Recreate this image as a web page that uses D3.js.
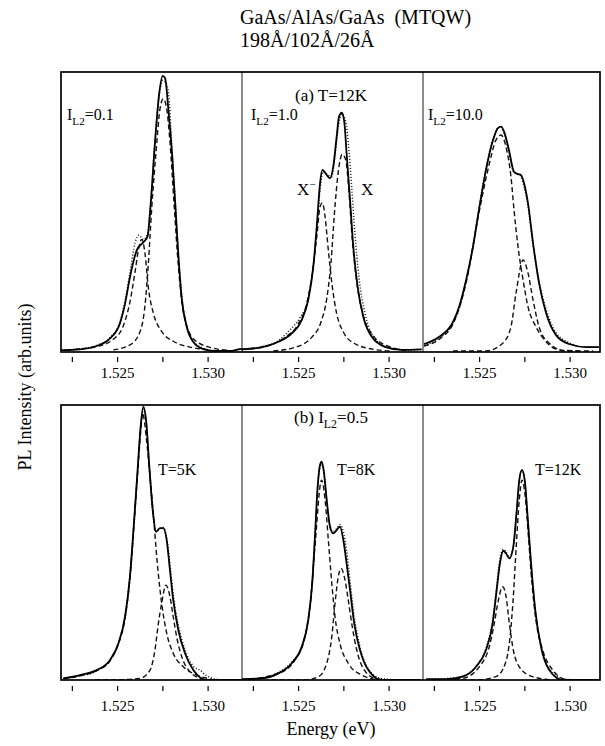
<!DOCTYPE html>
<html><head><meta charset="utf-8">
<script src="https://cdn.jsdelivr.net/npm/d3@7"></script>
<style>
body{margin:0;background:#fff}
svg{display:block}
text{font-family:"Liberation Serif","Times New Roman",serif;fill:#000}
</style>
</head><body><svg id="c" width="605" height="746"></svg>
<script>
// ---------------- DATA (energy eV, PL intensity arb. units) ----------------
const energyDomain = [1.5219, 1.5319];
const energyTicks = [1.5225, 1.525, 1.5275, 1.530];
const energyLabels = [1.525, 1.530];

// (a) T=12K, I_L2 = 0.1
const a1Total = [[1.52190,0.3],[1.52295,0.6],[1.52387,1.8],[1.52461,4.5],[1.52516,10],[1.52544,17],[1.52571,26.5],[1.52608,36],[1.52645,39],[1.52668,41],[1.52686,53],[1.52709,74.5],[1.52733,92.5],[1.52752,98.6],[1.52765,97.8],[1.52784,86],[1.52802,72],[1.52820,54],[1.52839,33.7],[1.52858,18.3],[1.52885,8.6],[1.52921,3.2],[1.52976,0.7],[1.53050,0],[1.53124,0],[1.53170,0.6],[1.53190,0.8]];
const a1Data = [[1.52190,0.3],[1.52295,0.8],[1.52387,2.0],[1.52461,4.8],[1.52516,10.5],[1.52544,18],[1.52571,28],[1.52600,39],[1.52620,41.5],[1.52645,40],[1.52668,42],[1.52686,54],[1.52709,75],[1.52733,92],[1.52752,97],[1.52770,96],[1.52785,92],[1.52800,76],[1.52820,55],[1.52839,34],[1.52858,19],[1.52885,9],[1.52921,3.5],[1.52976,1],[1.53050,0],[1.53124,0],[1.53190,0.8]];
const a1Trion = [[1.52221,0.4],[1.52387,1.6],[1.52479,4.2],[1.52534,9],[1.52571,17.6],[1.52599,28.3],[1.52621,37.4],[1.52636,40],[1.52654,35],[1.52672,23],[1.52700,13.6],[1.52746,7],[1.52810,3.5],[1.52903,1.4],[1.53013,0.4]];
const a1Exciton = [[1.52479,0.4],[1.52571,2.2],[1.52626,6.8],[1.52654,16.3],[1.52672,30.7],[1.52691,51],[1.52715,71.3],[1.52737,86.8],[1.52755,90.4],[1.52774,86.8],[1.52792,74.9],[1.52814,53.4],[1.52838,30.7],[1.52866,14],[1.52921,4.4],[1.53013,1.3],[1.53124,0.2]];

// (a) T=12K, I_L2 = 1.0
const a2Total = [[1.52190,0.6],[1.52299,1.3],[1.52391,3.3],[1.52465,6.3],[1.52520,11.1],[1.52556,18.3],[1.52584,30.2],[1.52603,44.6],[1.52621,60],[1.52634,64.9],[1.52652,63.7],[1.52676,61.9],[1.52694,66],[1.52713,76.8],[1.52726,84],[1.52741,85.4],[1.52755,82.2],[1.52768,70.8],[1.52787,54],[1.52805,37.4],[1.52829,23],[1.52860,12.3],[1.52907,5.1],[1.52980,1.5],[1.53072,0.4],[1.53183,0.6]];
const a2Data = [[1.52190,0.4],[1.52299,1.6],[1.52391,3.7],[1.52455,7.6],[1.52510,11.9],[1.52556,18.9],[1.52584,30.8],[1.52606,45.8],[1.52625,60],[1.52639,64.3],[1.52663,63.1],[1.52686,62.5],[1.52704,70.2],[1.52722,80.1],[1.52741,85],[1.52763,82.2],[1.52781,72],[1.52796,58.8],[1.52814,42],[1.52836,26.5],[1.52870,13.3],[1.52925,4.4],[1.52998,1.2],[1.53109,0.4],[1.53183,0.6]];
const a2Trion = [[1.52190,0.6],[1.52335,1.9],[1.52428,4.9],[1.52501,9.7],[1.52547,16.9],[1.52578,27.7],[1.52603,40.9],[1.52621,51.6],[1.52634,53.1],[1.52649,48.1],[1.52667,36.1],[1.52689,23],[1.52713,13.4],[1.52750,6.8],[1.52814,2.6],[1.52925,0.5],[1.53017,0]];
const a2Exciton = [[1.52363,0],[1.52483,1.3],[1.52575,4.9],[1.52626,10.3],[1.52658,18.7],[1.52682,31.9],[1.52700,48.7],[1.52722,64.3],[1.52744,70.5],[1.52763,68.5],[1.52781,57.1],[1.52799,40.3],[1.52824,24.7],[1.52860,12.7],[1.52915,5.5],[1.52998,1.7],[1.53109,0.1]];

// (a) T=12K, I_L2 = 10.0
const a3Total = [[1.52196,2.5],[1.52278,5],[1.52356,10.4],[1.52389,15.8],[1.52428,25.4],[1.52466,37.3],[1.52499,50.5],[1.52538,64.9],[1.52577,75.6],[1.52604,79.9],[1.52621,80.4],[1.52638,78.6],[1.52665,72],[1.52693,64.2],[1.52715,63.4],[1.52731,63.1],[1.52748,60.2],[1.52770,53],[1.52798,38.7],[1.52831,24.4],[1.52870,13.6],[1.52925,5.7],[1.52997,2.5],[1.53091,1.4],[1.53162,1.4]];
const a3Data = [[1.52196,2],[1.52278,4.5],[1.52356,10],[1.52389,15],[1.52428,25],[1.52466,37.5],[1.52499,51],[1.52538,65.5],[1.52577,76],[1.52604,80],[1.52621,80.5],[1.52638,78],[1.52665,71],[1.52693,64],[1.52715,63.5],[1.52731,62.5],[1.52748,59],[1.52770,52],[1.52798,38],[1.52831,25],[1.52870,15],[1.52925,6.5],[1.52997,3],[1.53091,1.4],[1.53162,1.4]];
const a3Trion = [[1.52196,1.8],[1.52289,4.7],[1.52356,9.7],[1.52428,24.4],[1.52499,49.5],[1.52555,66.7],[1.52593,75.6],[1.52621,77.4],[1.52649,73],[1.52676,62.5],[1.52693,50.5],[1.52715,37.4],[1.52743,25.4],[1.52770,15.9],[1.52814,8.7],[1.52870,3.3],[1.52941,0.4],[1.53052,0]];
const a3Exciton = [[1.52356,0],[1.52538,0],[1.52632,2.9],[1.52676,8.7],[1.52704,20.8],[1.52743,32.6],[1.52770,28],[1.52798,18.3],[1.52831,8.7],[1.52886,2.9],[1.52980,0],[1.53129,0]];

// (b) I_L2 = 0.5, T=5K
const b1Total = [[1.52203,0.6],[1.52295,1.8],[1.52387,3.6],[1.52461,7.3],[1.52507,13.3],[1.52544,23],[1.52571,37.6],[1.52593,57],[1.52612,75.2],[1.52630,92.1],[1.52645,99.4],[1.52660,94.5],[1.52678,77.6],[1.52697,61.8],[1.52715,53.9],[1.52737,55.2],[1.52755,55.2],[1.52774,50.9],[1.52792,40],[1.52810,29.1],[1.52838,18.2],[1.52875,9.7],[1.52921,3.6],[1.52995,0],[1.53087,0],[1.53188,0]];
const b1Data = [[1.52203,0.5],[1.52295,1.5],[1.52387,3.3],[1.52461,7.3],[1.52507,13.5],[1.52544,23.5],[1.52571,38],[1.52593,57],[1.52612,75],[1.52630,92],[1.52645,98.5],[1.52660,94],[1.52678,77],[1.52697,61],[1.52715,54],[1.52737,55],[1.52755,55.5],[1.52774,51.5],[1.52792,42],[1.52810,31],[1.52838,20],[1.52875,11],[1.52921,5],[1.52960,3.5],[1.52995,1.5],[1.53087,0],[1.53188,0]];
const b1Trion = [[1.52203,0.5],[1.52295,1.5],[1.52387,3.4],[1.52461,7],[1.52507,13],[1.52544,22.5],[1.52571,37],[1.52593,56],[1.52612,74],[1.52630,90],[1.52641,97],[1.52663,87],[1.52682,74],[1.52704,57],[1.52722,42.5],[1.52746,28],[1.52774,17],[1.52810,9.7],[1.52866,4.8],[1.52940,1.8],[1.53023,0.3]];
const b1Exciton = [[1.52378,0],[1.52479,0],[1.52626,0.6],[1.52682,3.6],[1.52709,10.9],[1.52728,20.6],[1.52746,27.9],[1.52770,34.5],[1.52792,30.3],[1.52810,23],[1.52829,15.7],[1.52857,8.5],[1.52903,3],[1.52976,0.3],[1.53050,0]];

// (b) I_L2 = 0.5, T=8K
const b2Total = [[1.52190,0.3],[1.52299,0.6],[1.52391,2.4],[1.52465,6.1],[1.52520,12.1],[1.52556,21.8],[1.52578,35.2],[1.52593,52.1],[1.52608,70.3],[1.52621,78.2],[1.52630,79.4],[1.52641,76.4],[1.52658,65.5],[1.52676,55.8],[1.52694,53.3],[1.52713,54.5],[1.52731,55.8],[1.52750,50.9],[1.52768,42.4],[1.52787,32.7],[1.52810,20.6],[1.52842,10.9],[1.52888,3.6],[1.52962,0],[1.53072,0],[1.53173,0]];
const b2Data = [[1.52190,0.3],[1.52299,0.8],[1.52391,2.8],[1.52465,6.5],[1.52520,12],[1.52556,22],[1.52578,35.5],[1.52593,52],[1.52608,70],[1.52621,77.5],[1.52630,78.5],[1.52641,76],[1.52658,65],[1.52676,56],[1.52694,54],[1.52713,55],[1.52731,56.5],[1.52750,54],[1.52768,47],[1.52787,36],[1.52810,23],[1.52842,12],[1.52888,4],[1.52962,0.5],[1.53072,0],[1.53173,0]];
const b2Trion = [[1.52190,0],[1.52391,2.4],[1.52483,7.3],[1.52538,15.7],[1.52571,30.3],[1.52593,48.5],[1.52630,72.7],[1.52649,65.5],[1.52667,50.9],[1.52686,35.2],[1.52704,23],[1.52731,13.3],[1.52777,6.1],[1.52851,1.8],[1.52943,0]];
const b2Exciton = [[1.52354,0],[1.52538,0],[1.52612,1.2],[1.52658,6.1],[1.52686,15.7],[1.52704,27.9],[1.52722,37.6],[1.52737,40.6],[1.52759,36.4],[1.52777,29.1],[1.52799,19.4],[1.52824,10.9],[1.52860,4.2],[1.52925,0.6],[1.52998,0]];

// (b) I_L2 = 0.5, T=12K
const b3Total = [[1.52207,0.3],[1.52317,0.3],[1.52409,1.2],[1.52483,4.8],[1.52538,10.9],[1.52575,20.6],[1.52597,32.7],[1.52615,42.4],[1.52634,47],[1.52649,46],[1.52667,44.2],[1.52689,48.5],[1.52708,61.8],[1.52722,72.7],[1.52737,76.4],[1.52752,72.7],[1.52768,59.4],[1.52787,42.4],[1.52810,25.5],[1.52842,12.1],[1.52888,3.6],[1.52962,0],[1.53054,0],[1.53183,0]];
const b3Data = [[1.52207,0.2],[1.52317,0.5],[1.52409,1.4],[1.52483,5],[1.52538,11.5],[1.52575,22],[1.52597,34],[1.52615,44],[1.52634,47.5],[1.52649,46.5],[1.52667,44.5],[1.52689,48.5],[1.52708,62],[1.52722,73],[1.52737,76],[1.52752,72.5],[1.52768,59],[1.52787,42],[1.52810,25.5],[1.52842,12.5],[1.52888,4],[1.52962,0.5],[1.53054,0],[1.53183,0]];
const b3Trion = [[1.52280,0],[1.52409,0.6],[1.52501,4.8],[1.52556,12.1],[1.52584,20.6],[1.52603,27.9],[1.52630,33.9],[1.52649,30.3],[1.52667,20.6],[1.52689,10.9],[1.52722,4.8],[1.52796,1.2],[1.52907,0]];
const b3Exciton = [[1.52317,0],[1.52483,0],[1.52593,1.2],[1.52645,6.1],[1.52671,15.7],[1.52689,30.3],[1.52704,47.3],[1.52722,65.5],[1.52737,72.7],[1.52755,66.7],[1.52774,50.9],[1.52792,35.2],[1.52814,21.8],[1.52851,10.9],[1.52907,3.6],[1.52980,0]];

// ---------------- LAYOUT ----------------
const svg = d3.select("#c");
const colX = [61, 242, 423];
const colW = [181, 181, 177];
const rows = [{top:72, bottom:352, base:351, tickY:357, labY:21}, {top:405, bottom:680, base:680, tickY:686, labY:25}];

const panels = [
  {r:0,c:0,total:a1Total,data:a1Data,trion:a1Trion,exciton:a1Exciton},
  {r:0,c:1,total:a2Total,data:a2Data,trion:a2Trion,exciton:a2Exciton},
  {r:0,c:2,total:a3Total,data:a3Data,trion:a3Trion,exciton:a3Exciton},
  {r:1,c:0,total:b1Total,data:b1Data,trion:b1Trion,exciton:b1Exciton},
  {r:1,c:1,total:b2Total,data:b2Data,trion:b2Trion,exciton:b2Exciton},
  {r:1,c:2,total:b3Total,data:b3Data,trion:b3Trion,exciton:b3Exciton}
];

const defs = svg.append("defs");

panels.forEach((p,i) => {
  const row = rows[p.r];
  const x0 = colX[p.c], w = colW[p.c];
  const x = d3.scaleLinear().domain(energyDomain).range([x0, x0 + 181]);
  const y = d3.scaleLinear().domain([0, 100]).range([row.base, row.top]);
  const clipId = "clip" + i;
  defs.append("clipPath").attr("id", clipId).append("rect")
    .attr("x", x0).attr("y", row.top).attr("width", w).attr("height", row.bottom - row.top);
  const g = svg.append("g").attr("clip-path", `url(#${clipId})`);
  const line = d3.line().x(d => x(d[0])).y(d => y(d[1])).curve(d3.curveMonotoneX);
  [p.trion, p.exciton].forEach(s => {
    g.append("path").attr("d", line(s)).attr("fill","none").attr("stroke","#111")
      .attr("stroke-width",1.4).attr("stroke-dasharray","5,3");
  });
  g.append("path").attr("d", line(p.data)).attr("fill","none").attr("stroke","#111")
    .attr("stroke-width",1.5).attr("stroke-dasharray","1,2");
  g.append("path").attr("d", line(p.total)).attr("fill","none").attr("stroke","#000")
    .attr("stroke-width",1.8);

  // axis ticks
  const ax = d3.axisBottom(x).tickValues(energyTicks).tickSize(5)
    .tickFormat(d => energyLabels.some(v => Math.abs(v - d) < 1e-9) ? d3.format(".3f")(d) : "");
  const ag = svg.append("g").attr("transform", `translate(0,${row.tickY})`).call(ax);
  ag.select(".domain").remove();
  ag.selectAll(".tick line").attr("stroke","#000").attr("stroke-width",1.2);
  ag.selectAll("text").attr("y", row.labY).attr("dy", null)
    .style("font-family",'"Liberation Serif","Times New Roman",serif').style("font-size","15px").attr("fill","#000");
});

// frames
rows.forEach(row => {
  svg.append("rect").attr("x", 61).attr("y", row.top).attr("width", 600 - 61).attr("height", row.bottom - row.top)
    .attr("fill","none").attr("stroke","#000").attr("stroke-width",1.7);
  [242, 423].forEach(xx => svg.append("line").attr("x1",xx).attr("x2",xx).attr("y1",row.top).attr("y2",row.bottom)
    .attr("stroke","#000").attr("stroke-width",0.9));
});

// ---------------- TEXT ----------------
function addIL2(xp, yp, size, anchor) {
  return svg.append("text").attr("x", xp).attr("y", yp).style("font-size", size + "px").attr("text-anchor", anchor || "start");
}
function il2(t, prefix, val, size) {
  if (prefix) t.append("tspan").text(prefix);
  t.append("tspan").text("I");
  t.append("tspan").attr("dy", size*0.3).style("font-size", (size*0.7)+"px").text("L2");
  t.append("tspan").attr("dy", -size*0.3).text("=" + val);
}
il2(addIL2(67, 120, 16), "", "0.1", 16);
il2(addIL2(251, 120, 16), "", "1.0", 16);
il2(addIL2(428, 120, 16), "", "10.0", 16);
il2(addIL2(331, 423, 17, "middle"), "(b) ", "0.5", 17);

svg.append("text").attr("x", 331).attr("y", 101).attr("text-anchor","middle").style("font-size","17px").text("(a) T=12K");
const xm = svg.append("text").attr("x", 297).attr("y", 195).style("font-size","17px");
xm.append("tspan").text("X");
xm.append("tspan").attr("dy",-7).style("font-size","11px").text("−");
svg.append("text").attr("x", 361).attr("y", 195).style("font-size","17px").text("X");

svg.append("text").attr("x", 158).attr("y", 475).style("font-size","16px").text("T=5K");
svg.append("text").attr("x", 337).attr("y", 475).style("font-size","16px").text("T=8K");
svg.append("text").attr("x", 535).attr("y", 475).style("font-size","16px").text("T=12K");

svg.append("text").attr("x", 240).attr("y", 24).style("font-size","20px").text("GaAs/AlAs/GaAs\u00a0\u00a0(MTQW)");
svg.append("text").attr("x", 240).attr("y", 47).style("font-size","20px").text("198Å/102Å/26Å");

svg.append("text").attr("x", 331).attr("y", 735).attr("text-anchor","middle").style("font-size","18px").text("Energy (eV)");
svg.append("text").attr("transform","translate(31,387) rotate(-90)").attr("text-anchor","middle").style("font-size","18px").text("PL Intensity (arb.units)");
</script>
</body></html>
